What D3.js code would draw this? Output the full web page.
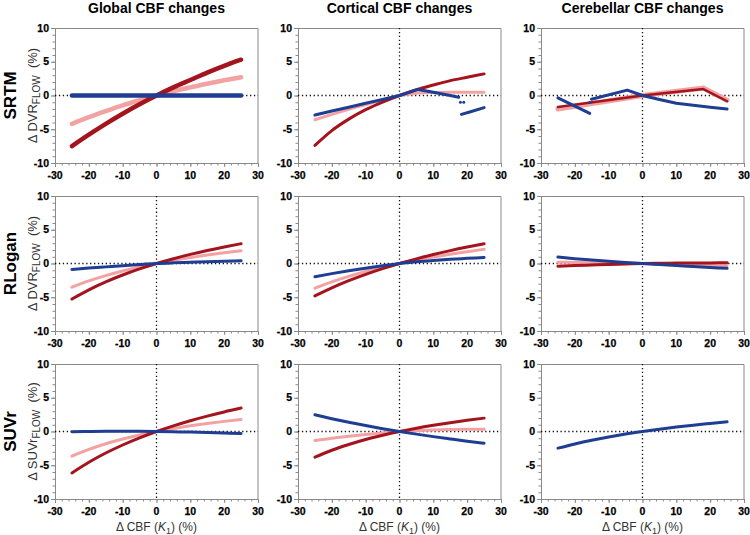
<!DOCTYPE html>
<html>
<head>
<meta charset="utf-8">
<script src="https://cdn.jsdelivr.net/npm/d3@7"></script>
<style>
  body { margin: 0; background: #fff; }
  svg { font-family: "Liberation Sans", Arial, sans-serif; }
</style>
</head>
<body>
<svg id="chart" width="750" height="535"></svg>
<script>
// axis ticks and labels
var xTicks = [-30, -20, -10, 0, 10, 20, 30];
var yTicks = [-10, -5, 0, 5, 10];
var colTitles = ['Global CBF changes', 'Cortical CBF changes', 'Cerebellar CBF changes'];
var rowMethods = ['SRTM', 'RLogan', 'SUVr'];
var rowMeasures = ['DVR', 'DVR', 'SUVr'];

// CBF (K1) change, %
var cbf = [-25, -20, -15, -10, -5, 0, 5, 10, 15, 20, 25];

// SRTM
var srtmGlobalRed = [-7.5, -5.8, -4.2, -2.7, -1.3, 0, 1.2, 2.3, 3.4, 4.4, 5.3];
var srtmGlobalPink = [-4.2, -3.2, -2.3, -1.45, -0.7, 0, 0.63, 1.2, 1.75, 2.25, 2.7];
var srtmGlobalBlue = [0, 0, 0, 0, 0, 0, 0, 0, 0, 0, 0];
var srtmCorticalRed = [-7.4, -5.2, -3.5, -2.1, -0.97, 0, 0.85, 1.55, 2.2, 2.7, 3.2];
var srtmCorticalPink = [-3.6, -2.8, -2.05, -1.35, -0.65, 0, 0.35, 0.45, 0.5, 0.5, 0.5];
// broken blue curve: [cbf, change] pairs
var srtmCorticalBlue1 = [[-25, -2.9], [-20, -2.3], [-15, -1.75], [-10, -1.15], [-5, -0.58], [0, 0], [5.5, 0.9], [10, 0.47], [15, 0], [17.5, -0.25]];
var srtmCorticalBlueDots = [[18, -1.0], [19, -1.0]];
var srtmCorticalBlue2 = [[18.3, -2.8], [21, -2.4], [25, -1.8]];
var srtmCerebRed = [[-25, -1.7], [0, 0], [18, 0.95], [25, -0.85]];
var srtmCerebPink = [[-25, -2.0], [0, 0], [18, 1.1], [25, -0.7]];
var srtmCerebBlue1 = [[-25, -0.35], [-15.6, -2.65]];
var srtmCerebBlueDots = [[-15.6, -1.05]];
var srtmCerebBlue2 = [[-15.1, -0.55], [-4.5, 0.8], [0, 0], [5, -0.6], [10, -1.15], [15, -1.45], [20, -1.75], [25, -2.0]];

// RLogan
var rloganGlobalRed = [-5.27, -3.9, -2.72, -1.7, -0.8, 0, 0.71, 1.35, 1.93, 2.45, 2.93];
var rloganGlobalPink = [-3.5, -2.58, -1.8, -1.12, -0.52, 0, 0.46, 0.88, 1.25, 1.59, 1.9];
var rloganGlobalBlue = [-0.88, -0.68, -0.5, -0.32, -0.15, 0, 0.1, 0.18, 0.26, 0.33, 0.39];
var rloganCorticalRed = [-4.8, -3.61, -2.55, -1.61, -0.76, 0, 0.69, 1.33, 1.91, 2.44, 2.93];
var rloganCorticalPink = [-3.65, -2.72, -1.91, -1.19, -0.56, 0, 0.51, 0.96, 1.38, 1.75, 2.1];
var rloganCorticalBlue = [-1.95, -1.5, -1.08, -0.7, -0.33, 0, 0.25, 0.45, 0.62, 0.76, 0.9];
var rloganCerebRed = [-0.4, -0.3, -0.22, -0.14, -0.07, 0, 0.04, 0.06, 0.08, 0.09, 0.1];
var rloganCerebPink = [0.2, 0.16, 0.12, 0.08, 0.04, 0, -0.06, -0.13, -0.2, -0.28, -0.35];
var rloganCerebBlue = [0.95, 0.72, 0.52, 0.33, 0.16, 0, -0.15, -0.3, -0.44, -0.58, -0.72];

// SUVr
var suvrGlobalRed = [-6.14, -4.56, -3.19, -2.0, -0.94, 0, 0.84, 1.6, 2.28, 2.9, 3.47];
var suvrGlobalPink = [-3.66, -2.65, -1.81, -1.11, -0.51, 0, 0.45, 0.84, 1.19, 1.5, 1.78];
var suvrGlobalBlue = [-0.05, 0, 0.03, 0.03, 0.02, 0, -0.04, -0.09, -0.15, -0.22, -0.3];
var suvrCorticalRed = [-3.8, -2.78, -1.93, -1.19, -0.56, 0, 0.49, 0.92, 1.31, 1.66, 1.98];
var suvrCorticalPink = [-1.33, -1.0, -0.72, -0.45, -0.21, 0, 0.14, 0.23, 0.29, 0.33, 0.35];
var suvrCorticalBlue = [2.47, 1.9, 1.37, 0.88, 0.42, 0, -0.39, -0.76, -1.1, -1.43, -1.73];
var suvrCerebBlue = [-2.47, -1.84, -1.29, -0.81, -0.38, 0, 0.34, 0.65, 0.94, 1.19, 1.43];

var params = {
	colX: [55, 298, 541],
	rowY: [28, 196, 364],
	pw: 203,
	ph: 135,
	red: '#a3141d',
	pink: '#f3a2a4',
	blue: '#1f3e93',
	axisColor: '#8a8a8a'
};

function zipCbf(vals){
	return vals.map(function(v, i){ return [cbf[i], v]; });
}

// one entry per panel, series drawn in order (back to front)
var panels = [
	{row: 0, col: 0, vline: false, series: [
		{pts: zipCbf(srtmGlobalPink), color: params.pink, w: 4.5, smooth: true},
		{pts: zipCbf(srtmGlobalRed), color: params.red, w: 4.5, smooth: true},
		{pts: zipCbf(srtmGlobalBlue), color: params.blue, w: 4.5, smooth: true}]},
	{row: 0, col: 1, vline: true, series: [
		{pts: zipCbf(srtmCorticalPink), color: params.pink, w: 3, smooth: true},
		{pts: zipCbf(srtmCorticalRed), color: params.red, w: 3, smooth: true},
		{pts: srtmCorticalBlue1, color: params.blue, w: 3},
		{pts: srtmCorticalBlue2, color: params.blue, w: 3},
		{pts: srtmCorticalBlueDots, color: params.blue, w: 3, dots: true}]},
	{row: 0, col: 2, vline: true, series: [
		{pts: srtmCerebPink, color: params.pink, w: 5},
		{pts: srtmCerebRed, color: params.red, w: 2.5},
		{pts: srtmCerebBlue1, color: params.blue, w: 3},
		{pts: srtmCerebBlue2, color: params.blue, w: 3},
		{pts: srtmCerebBlueDots, color: params.blue, w: 3, dots: true}]},
	{row: 1, col: 0, vline: true, series: [
		{pts: zipCbf(rloganGlobalPink), color: params.pink, w: 3, smooth: true},
		{pts: zipCbf(rloganGlobalRed), color: params.red, w: 3, smooth: true},
		{pts: zipCbf(rloganGlobalBlue), color: params.blue, w: 3, smooth: true}]},
	{row: 1, col: 1, vline: true, series: [
		{pts: zipCbf(rloganCorticalPink), color: params.pink, w: 3, smooth: true},
		{pts: zipCbf(rloganCorticalRed), color: params.red, w: 3, smooth: true},
		{pts: zipCbf(rloganCorticalBlue), color: params.blue, w: 3, smooth: true}]},
	{row: 1, col: 2, vline: true, series: [
		{pts: zipCbf(rloganCerebPink), color: params.pink, w: 3, smooth: true},
		{pts: zipCbf(rloganCerebRed), color: params.red, w: 3, smooth: true},
		{pts: zipCbf(rloganCerebBlue), color: params.blue, w: 3, smooth: true}]},
	{row: 2, col: 0, vline: true, series: [
		{pts: zipCbf(suvrGlobalPink), color: params.pink, w: 3, smooth: true},
		{pts: zipCbf(suvrGlobalRed), color: params.red, w: 3, smooth: true},
		{pts: zipCbf(suvrGlobalBlue), color: params.blue, w: 3, smooth: true}]},
	{row: 2, col: 1, vline: true, series: [
		{pts: zipCbf(suvrCorticalPink), color: params.pink, w: 3, smooth: true},
		{pts: zipCbf(suvrCorticalRed), color: params.red, w: 3, smooth: true},
		{pts: zipCbf(suvrCorticalBlue), color: params.blue, w: 3, smooth: true}]},
	{row: 2, col: 2, vline: true, series: [
		{pts: zipCbf(suvrCerebBlue), color: params.blue, w: 3, smooth: true}]}
];

var svg = d3.select('#chart');

// column titles
svg.selectAll('.colTitle')
	.data(colTitles).enter()
	.append('text')
		.attr('class', 'colTitle')
		.attr('x', function(d, i){ return params.colX[i] + params.pw / 2; })
		.attr('y', 13)
		.attr('text-anchor', 'middle')
		.style('font-size', '14px')
		.style('font-weight', 'bold')
		.text(function(d){ return d; });

// row labels + y axis labels
rowMethods.forEach(function(m, i){
	var cy = params.rowY[i] + params.ph / 2;
	svg.append('text')
		.attr('transform', 'translate(16,' + cy + ') rotate(-90)')
		.attr('text-anchor', 'middle')
		.style('font-size', '17px')
		.style('font-weight', 'bold')
		.text(m);

	var yl = svg.append('text')
		.attr('transform', 'translate(37,' + cy + ') rotate(-90)')
		.attr('text-anchor', 'middle')
		.style('font-size', '13px')
		.style('fill', '#333');
	yl.append('tspan').text('\u0394 ' + rowMeasures[i]);
	yl.append('tspan').attr('dy', 3).style('font-size', '10px').text('FLOW');
	yl.append('tspan').attr('dy', -3).text('\u00a0\u00a0(%)');
});

// x axis labels on bottom row
params.colX.forEach(function(cx){
	var xl = svg.append('text')
		.attr('x', cx + params.pw / 2)
		.attr('y', 531)
		.attr('text-anchor', 'middle')
		.style('font-size', '12px')
		.style('fill', '#333');
	xl.append('tspan').text('\u0394 CBF (');
	xl.append('tspan').style('font-style', 'italic').text('K');
	xl.append('tspan').attr('dy', 3).style('font-size', '9px').text('1');
	xl.append('tspan').attr('dy', -3).text(') (%)');
});

panels.forEach(function(p){
	var g = svg.append('g')
		.attr('transform', 'translate(' + params.colX[p.col] + ',' + params.rowY[p.row] + ')');

	var x = d3.scaleLinear().domain([-30, 30]).range([0, params.pw]);
	var y = d3.scaleLinear().domain([-10, 10]).range([params.ph, 0]);

	// top and right frame
	g.append('path')
		.attr('d', 'M0,0.5H' + params.pw + 'V' + params.ph)
		.attr('fill', 'none')
		.attr('stroke', params.axisColor)
		.attr('stroke-width', 1);

	// minor ticks
	g.append('g')
		.attr('transform', 'translate(0,' + params.ph + ')')
		.call(d3.axisBottom(x).tickValues(d3.range(-30, 31, 2)).tickSize(2.5).tickSizeOuter(0).tickFormat(''));
	g.append('g')
		.call(d3.axisLeft(y).tickValues(d3.range(-10, 11, 1)).tickSize(2.5).tickSizeOuter(0).tickFormat(''));

	// major ticks, labels drawn by hand so they can be bold
	g.append('g')
		.attr('transform', 'translate(0,' + params.ph + ')')
		.call(d3.axisBottom(x).tickValues(xTicks).tickSize(4).tickSizeOuter(0).tickFormat(''));
	g.append('g')
		.call(d3.axisLeft(y).tickValues(yTicks).tickSize(4).tickSizeOuter(0).tickFormat(''));
	g.selectAll('.domain, .tick line').attr('stroke', params.axisColor);

	g.selectAll('.xlab')
		.data(xTicks).enter()
		.append('text')
			.attr('class', 'xlab')
			.attr('x', function(d){ return x(d); })
			.attr('y', params.ph + 16)
			.attr('text-anchor', 'middle')
			.style('font-size', '10.5px')
			.style('font-weight', 'bold')
			.style('fill', '#000')
			.style('stroke', '#000')
			.style('stroke-width', '0.25px')
			.text(function(d){ return String(d); });
	g.selectAll('.ylab')
		.data(yTicks).enter()
		.append('text')
			.attr('class', 'ylab')
			.attr('x', -6)
			.attr('y', function(d){ return y(d) + 3.7; })
			.attr('text-anchor', 'end')
			.style('font-size', '10.5px')
			.style('font-weight', 'bold')
			.style('fill', '#000')
			.style('stroke', '#000')
			.style('stroke-width', '0.25px')
			.text(function(d){ return String(d); });

	// dotted zero lines
	g.append('line')
		.attr('x1', 0).attr('x2', params.pw)
		.attr('y1', y(0)).attr('y2', y(0))
		.attr('stroke', '#111').attr('stroke-width', 1.3)
		.attr('stroke-dasharray', '1.3,2.6');
	if (p.vline){
		g.append('line')
			.attr('x1', x(0)).attr('x2', x(0))
			.attr('y1', 0).attr('y2', params.ph)
			.attr('stroke', '#111').attr('stroke-width', 1.3)
			.attr('stroke-dasharray', '1.3,2.6');
	}

	p.series.forEach(function(s){
		if (s.dots){
			g.selectAll(null)
				.data(s.pts).enter()
				.append('circle')
					.attr('cx', function(d){ return x(d[0]); })
					.attr('cy', function(d){ return y(d[1]); })
					.attr('r', s.w / 2)
					.attr('fill', s.color);
			return;
		}
		var line = d3.line()
			.x(function(d){ return x(d[0]); })
			.y(function(d){ return y(d[1]); })
			.curve(s.smooth ? d3.curveMonotoneX : d3.curveLinear);
		g.append('path')
			.datum(s.pts)
			.attr('d', line)
			.attr('fill', 'none')
			.attr('stroke', s.color)
			.attr('stroke-width', s.w)
			.attr('stroke-linecap', 'round')
			.attr('stroke-linejoin', 'round');
	});
});
</script>
</body>
</html>
